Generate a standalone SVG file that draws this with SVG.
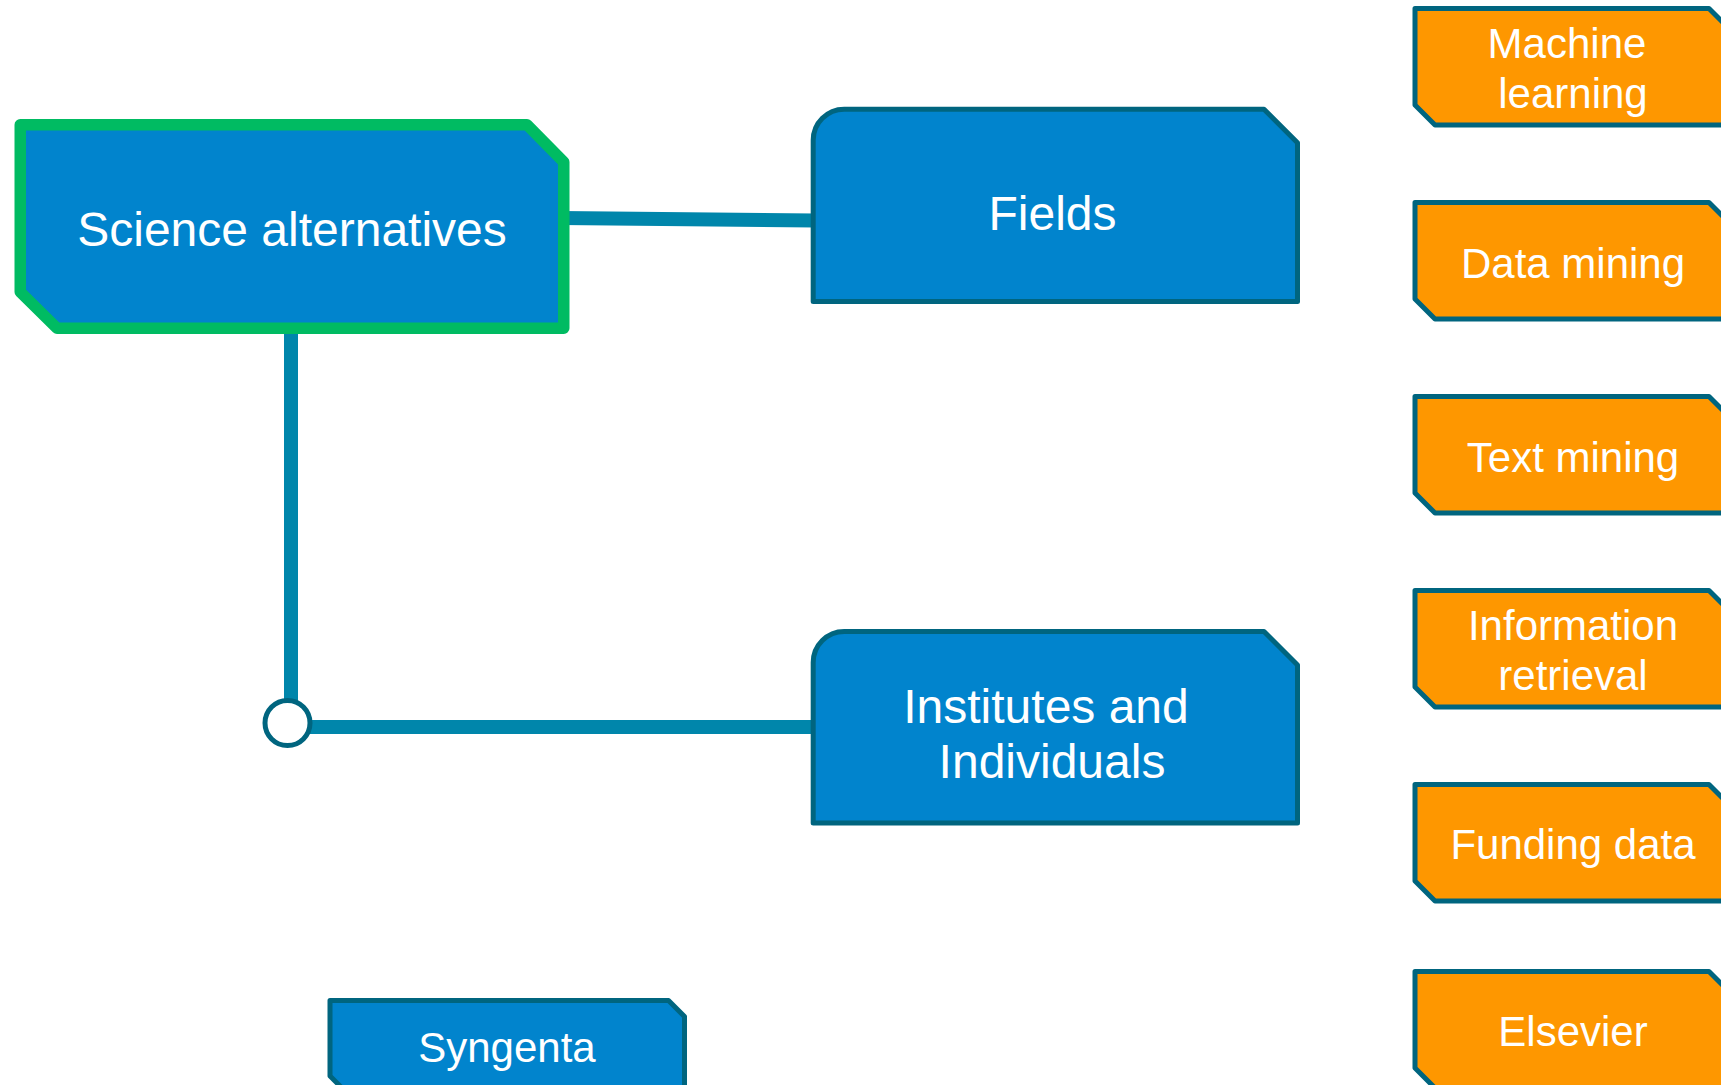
<svg xmlns="http://www.w3.org/2000/svg" width="1721" height="1085" viewBox="0 0 1721 1085">
<style>
  .bg { fill: #ffffff; }
  .conn { stroke: #0086AB; stroke-width: 14; fill: none; }
  .blue { fill: #0184CD; stroke: #00657F; stroke-width: 5; stroke-linejoin: round; }
  .root { fill: #0184CD; stroke: #00BB62; stroke-width: 11.5; stroke-linejoin: round; }
  .orange { fill: #FE9700; stroke: #00657F; stroke-width: 5; stroke-linejoin: round; }
  .t48 { font-family: "Liberation Sans", Arial, sans-serif; font-size: 48px; fill: #ffffff; text-anchor: middle; }
  .t42 { font-family: "Liberation Sans", Arial, sans-serif; font-size: 42px; fill: #ffffff; text-anchor: middle; }
  .joint { fill: #ffffff; stroke: #00657F; stroke-width: 5; }
</style>
<rect class="bg" x="0" y="0" width="1721" height="1085"/>
<g id="connectors">
  <line class="conn" x1="560" y1="218" x2="815" y2="220.5"/>
  <line class="conn" x1="291" y1="330" x2="291" y2="703"/>
  <line class="conn" x1="308" y1="727" x2="815" y2="727"/>
  <circle class="joint" cx="287.5" cy="723" r="22.5"/>
</g>
<g id="node-science-alternatives">
  <path class="root" d="M20.25,124.75 L527,124.75 L563.75,162 L563.75,328.25 L57,328.25 L20.25,292 Z"/>
  <text class="t48" x="292" y="246">Science alternatives</text>
</g>
<g id="node-fields">
  <path class="blue" d="M813.2,140.2 A31,31 0 0 1 844.2,109.2 L1264,109.2 L1297.5,142.7 L1297.5,301.5 L813.2,301.5 Z"/>
  <text class="t48" x="1052.5" y="230">Fields</text>
</g>
<g id="node-institutes">
  <path class="blue" d="M813.2,662.5 A31,31 0 0 1 844.2,631.5 L1264,631.5 L1297.5,665 L1297.5,823 L813.2,823 Z"/>
  <text class="t48" x="1046" y="723">Institutes and</text>
  <text class="t48" x="1052" y="778">Individuals</text>
</g>
<g id="node-syngenta">
  <path class="blue" d="M330,1000.5 L668.5,1000.5 L684.5,1016.5 L684.5,1092 L346,1092 L330,1076 Z"/>
  <text class="t42" x="507" y="1062">Syngenta</text>
</g>
<g id="node-machine-learning">
  <path class="orange" d="M1415,8.5 L1709,8.5 L1731,30.5 L1731,125 L1435,125 L1415,105 Z"/>
  <text class="t42" x="1567" y="58">Machine</text>
  <text class="t42" x="1573" y="108">learning</text>
</g>
<g id="node-data-mining">
  <path class="orange" d="M1415,202.5 L1709,202.5 L1731,224.5 L1731,319 L1435,319 L1415,299 Z"/>
  <text class="t42" x="1573" y="278">Data mining</text>
</g>
<g id="node-text-mining">
  <path class="orange" d="M1415,396.5 L1709,396.5 L1731,418.5 L1731,513 L1435,513 L1415,493 Z"/>
  <text class="t42" x="1573" y="472">Text mining</text>
</g>
<g id="node-information-retrieval">
  <path class="orange" d="M1415,590.5 L1709,590.5 L1731,612.5 L1731,707 L1435,707 L1415,687 Z"/>
  <text class="t42" x="1573" y="640">Information</text>
  <text class="t42" x="1573" y="690">retrieval</text>
</g>
<g id="node-funding-data">
  <path class="orange" d="M1415,784.5 L1709,784.5 L1731,806.5 L1731,901 L1435,901 L1415,881 Z"/>
  <text class="t42" x="1573" y="859">Funding data</text>
</g>
<g id="node-elsevier">
  <path class="orange" d="M1415,971.5 L1709,971.5 L1731,993.5 L1731,1088 L1435,1088 L1415,1068 Z"/>
  <text class="t42" x="1573" y="1046">Elsevier</text>
</g>
</svg>
